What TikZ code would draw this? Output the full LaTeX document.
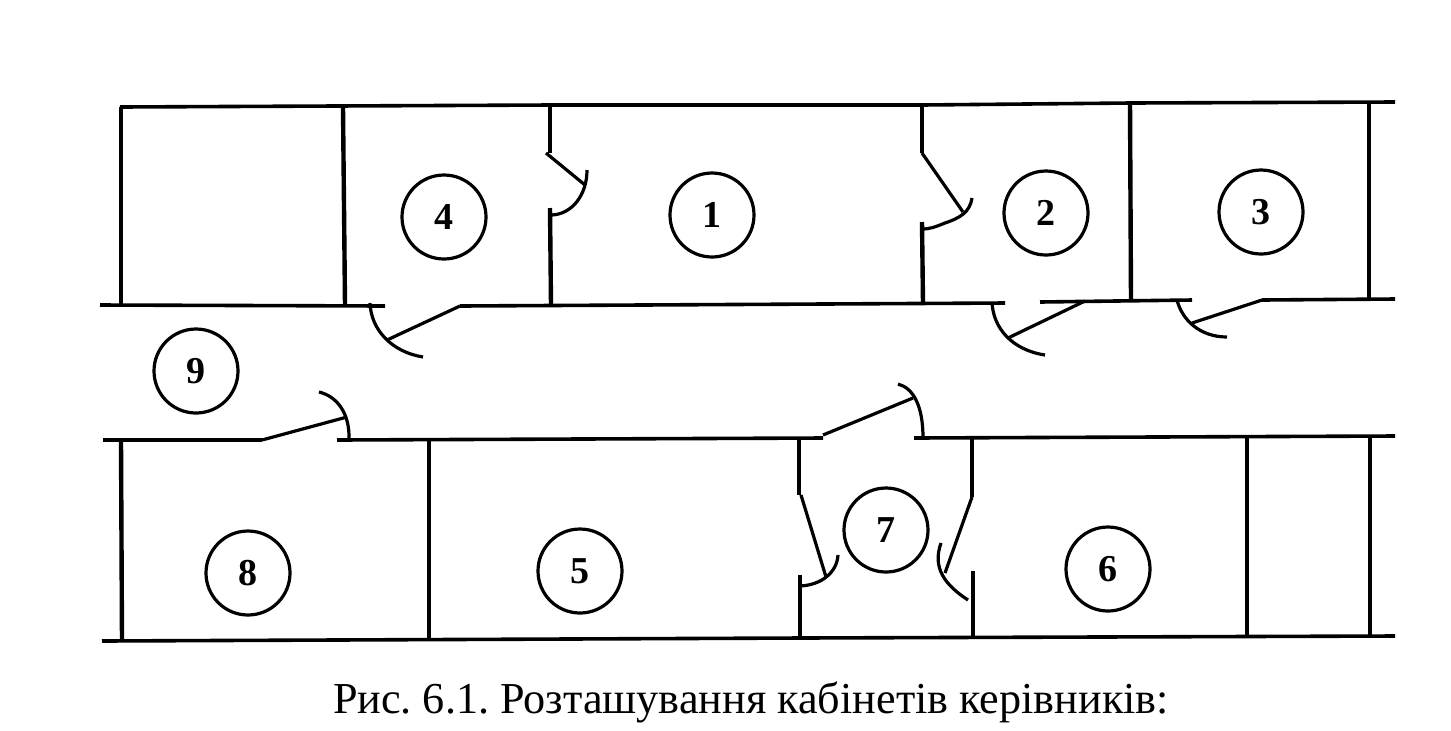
\documentclass[tikz,border=0pt]{standalone}
\usepackage{fontspec}
\setmainfont{Liberation Serif}
\usepackage{tikz}
\usetikzlibrary{positioning}

\begin{document}
\frenchspacing
\begin{tikzpicture}[
            x=0.5pt, y=-0.5pt,
            wall/.style={line width=2.2pt},
            thinwall/.style={line width=1.8pt},
            door/.style={line width=1.6pt}
        ]
            \useasboundingbox (0,0) rectangle (1451,730);
            \begin{scope}[
                every node/.style={circle, line width=1.6pt, draw, minimum size=42pt, inner sep=0pt, font=\fontsize{19}{22}\selectfont\bfseries}
            ]
                % Rooms
                \node (r4) at ( 444,217) {4};
                \node (r1) at ( 712,215) {1};
                \node (r2) at (1046,213) {2};
                \node (r3) at (1261,212) {3};
                \node (r9) at ( 196,371) {9};
                \node (r7) at ( 886,530) {7};
                \node (r8) at ( 248,573) {8};
                \node (r5) at ( 580,571) {5};
                \node (r6) at (1108,569) {6};
            \end{scope}
            % Long walls
            \draw[thinwall] (120,107) -- (550,105) -- (922,105) -- (1130,103) -- (1395,102);
            \draw[thinwall] (100,305) -- (385,306);
            \draw[thinwall] (460,306) -- (1005,303);
            \draw[thinwall] (1040,302) -- (1192,300);
            \draw[thinwall] (1262,300) -- (1395,299);
            \draw[thinwall] (103,440) -- (262,440);
            \draw[thinwall] (337,440) -- (823,438);
            \draw[thinwall] (914,438) -- (1395,436);
            \draw[thinwall] (102,641) -- (800,638) -- (1395,636);
            % Upper cross walls
            \draw[wall] (121,107) -- (121,305);
            \draw[wall] (343,107) -- (345,305);
            \draw[wall] (550,103) -- (550,153);
            \draw[wall] (550,208) -- (551,305);
            \draw[wall] (922,105) -- (922,153);
            \draw[wall] (922,222) -- (923,303);
            \draw[wall] (1130,103) -- (1131,301);
            \draw[wall] (1369,102) -- (1369,299);
            % Lower cross walls
            \draw[wall] (121,440) -- (122,641);
            \draw[wall] (429,440) -- (429,641);
            \draw[wall] (799,438) -- (799,495);
            \draw[wall] (800,575) -- (800,638);
            \draw[wall] (972,438) -- (972,497);
            \draw[thinwall] (973,571) -- (973,638);
            \draw[wall] (1247,437) -- (1247,637);
            \draw[wall] (1370,436) -- (1370,636);
            % Doors: leaf, then swing
            \draw[door] (460,306) -- (387,340);
            \draw[door] (370,303) .. controls (371,330) and (392,352) .. (423,357);
            \draw[door] (546,153) -- (585,185);
            \draw[door] (587,170) .. controls (587,195) and (572,214) .. (552,215);
            \draw[door] (922,153) -- (963,212);
            \draw[door] (972,198) .. controls (970,212) and (960,218) .. (945,223) .. controls (935,227) and (930,229) .. (922,229);
            \draw[door] (1085,301) -- (1008,338);
            \draw[door] (992,302) .. controls (993,328) and (1012,350) .. (1045,355);
            \draw[door] (1262,300) -- (1192,323);
            \draw[door] (1177,300) .. controls (1182,320) and (1200,337) .. (1227,337);
            \draw[door] (262,440) -- (347,417);
            \draw[door] (319,392) .. controls (336,396) and (350,412) .. (349,440);
            \draw[door] (823,435) -- (913,398);
            \draw[door] (898,384) .. controls (913,388) and (923,405) .. (923,438);
            \draw[door] (801,495) -- (826,577);
            \draw[door] (838,555) .. controls (837,572) and (822,585) .. (800,586);
            \draw[door] (972,497) -- (945,573);
            \draw[door] (941,543) .. controls (932,568) and (945,585) .. (968,600);
            % Caption
            \node[font=\fontsize{22.1}{26}\selectfont] (caption) at (751,702) {Рис. 6.1. Розташування кабінетів керівників:};
        \end{tikzpicture}
\end{document}
